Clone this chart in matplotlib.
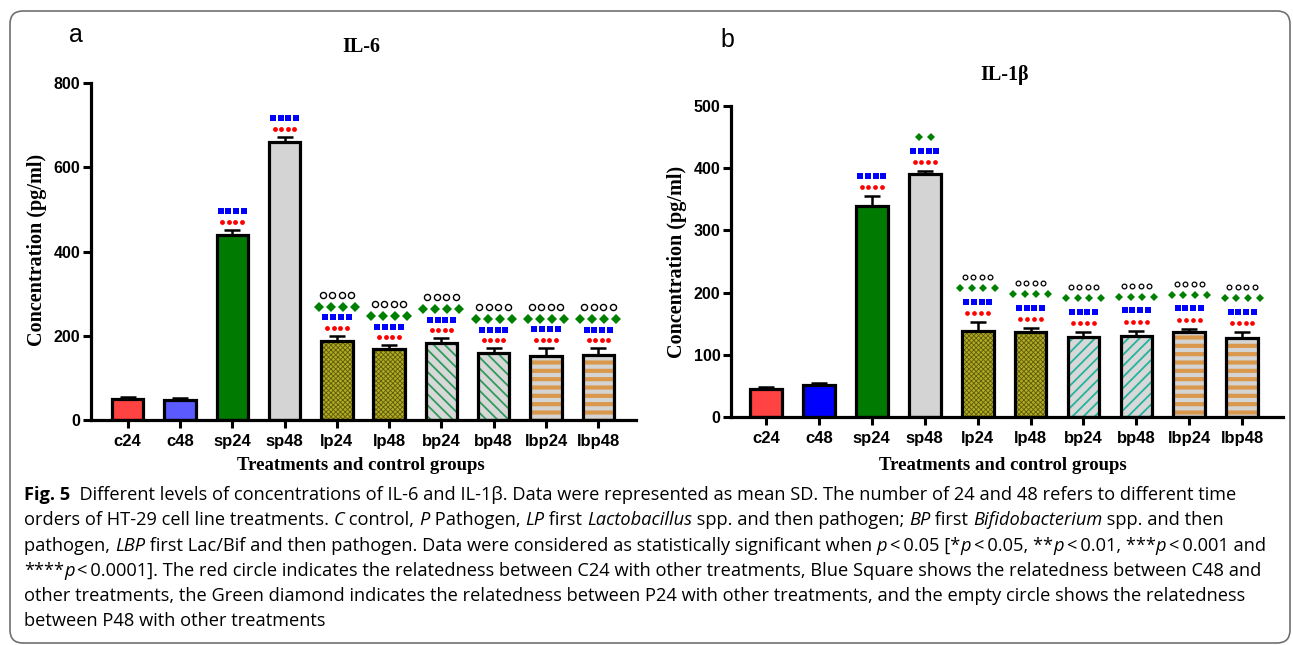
import matplotlib
matplotlib.use("Agg")
import matplotlib.pyplot as plt
import matplotlib.transforms as mtransforms
from matplotlib.patches import FancyBboxPatch
import numpy as np

W, H = 1293, 645

groups = ["c24", "c48", "sp24", "sp48", "lp24", "lp48", "bp24", "bp48", "lbp24", "lbp48"]

il6_mean = [50, 48, 438, 661, 188, 169, 182, 158, 152, 154]
il6_sd = [5, 5, 14, 11, 12, 8, 12, 12, 20, 16]
il1b_mean = [45, 52, 339, 390, 139, 137, 128, 130, 137, 127]
il1b_sd = [3, 2, 16, 5, 13, 6, 8, 9, 5, 9]

# significance marks per bar: red dots, blue squares, green diamonds, empty circles
il6_marks = [(0, 0, 0, 0), (0, 0, 0, 0), (4, 4, 0, 0), (4, 4, 0, 0)] + [(4, 4, 4, 4)] * 6
il1b_marks = [(0, 0, 0, 0), (0, 0, 0, 0), (4, 4, 0, 0), (4, 4, 2, 0)] + [(4, 4, 4, 4)] * 6

tick_font = "Liberation Sans"
serif = "Liberation Serif"

fig = plt.figure(figsize=(W / 100, H / 100), dpi=100)


def px_rect(x0, y_top, x1, y_bot):
    return [x0 / W, 1 - y_bot / H, (x1 - x0) / W, (y_bot - y_top) / H]


def bar_styles(c48_color, bp_hatch, bp_color):
    return [
        dict(face="#ff4242"),
        dict(face=c48_color),
        dict(face="#007a00"),
        dict(face="#d4d4d4"),
        dict(face="#b2ac22", hatch="xxxxxxx", hc="#5e5b0e", hlw=0.6),
        dict(face="#b2ac22", hatch="xxxxxxx", hc="#5e5b0e", hlw=0.6),
        dict(face="#d8d8d8", hatch=bp_hatch, hc=bp_color, hlw=1.3),
        dict(face="#d8d8d8", hatch=bp_hatch, hc=bp_color, hlw=1.3),
        dict(face="#d4d4d4", hatch="--", hc="#d9984c", hlw=3.0),
        dict(face="#d4d4d4", hatch="--", hc="#d9984c", hlw=3.0),
    ]


def draw_panel(ax, means, sds, marks, styles, ymax, ystep, xlim, mark_cfg):
    x = np.arange(len(groups))
    for i, m in enumerate(means):
        st = styles[i]
        with plt.rc_context({"hatch.linewidth": st.get("hlw", 1.0)}):
            b = ax.bar(x[i], m, width=0.6, color=st["face"], hatch=st.get("hatch"),
                       edgecolor=st.get("hc", st["face"]), linewidth=0, zorder=2)
            if hasattr(b[0], "set_hatch_linewidth"):
                b[0].set_hatch_linewidth(st.get("hlw", 1.0))
        ax.bar(x[i], m, width=0.6, fill=False, edgecolor="black", linewidth=2.3, zorder=3)
    ax.errorbar(x, means, yerr=[np.zeros(len(x)), sds], fmt="none", ecolor="black",
                elinewidth=1.8, capsize=6, capthick=1.8, zorder=4)

    for i, (m, s) in enumerate(zip(means, sds)):
        top = m + s
        for n, (dy, sp, mk, ms, fc, ec, mew) in zip(marks[i], mark_cfg):
            for k in range(n):
                dx = (k - (n - 1) / 2) * sp
                tr = mtransforms.offset_copy(ax.transData, fig=fig, x=dx, y=dy, units="dots")
                ax.plot([i], [top], marker=mk, ms=ms, mfc=fc, mec=ec, mew=mew,
                        ls="none", transform=tr, clip_on=False, zorder=5)

    ax.set_xlim(*xlim)
    ax.set_ylim(0, ymax)
    ax.set_yticks(np.arange(0, ymax + 1, ystep))
    ax.set_xticks(x)
    ax.set_xticklabels(groups)
    for sp in ["top", "right"]:
        ax.spines[sp].set_visible(False)
    for sp in ["left", "bottom"]:
        ax.spines[sp].set_linewidth(2.3)
    ax.tick_params(axis="both", width=2.2, length=6, direction="out")
    ax.tick_params(axis="y", pad=1.5)
    ax.tick_params(axis="x", pad=4)
    for lab in ax.get_yticklabels():
        lab.set_fontfamily(tick_font)
        lab.set_fontweight("bold")
        lab.set_fontsize(11.5)
    for lab in ax.get_xticklabels():
        lab.set_fontfamily(tick_font)
        lab.set_fontweight("bold")
        lab.set_fontsize(12)


red, blue, green = "#ff0000", "#0000ff", "#008000"

ax_a = fig.add_axes(px_rect(91, 83, 636, 420))
cfg_a = [
    (8, 6.5, "o", 3.5, red, red, 0),
    (18.5, 7.8, "s", 4.3, blue, blue, 0),
    (29, 12, "D", 4.6, green, green, 0),
    (41, 9.5, "o", 4.4, "none", "black", 1.0),
]
draw_panel(ax_a, il6_mean, il6_sd, il6_marks, bar_styles("#5a5aff", "\\\\\\", "#2e9a5c"),
           800, 200, (-0.70, 9.72), cfg_a)

ax_b = fig.add_axes(px_rect(731, 106, 1283, 417))
cfg_b = [
    (9, 6.8, "o", 3.4, red, red, 0),
    (20.5, 7.8, "s", 4.2, blue, blue, 0),
    (34, 11.7, "D", 4.5, green, green, 0),
    (45, 8.5, "o", 3.4, "none", "black", 0.9),
]
draw_panel(ax_b, il1b_mean, il1b_sd, il1b_marks, bar_styles("#0000ff", "///", "#22b39c"),
           500, 100, (-0.66, 9.77), cfg_b)


def ftext(x, y, s, **kw):
    return fig.text(x / W, 1 - y / H, s, **kw)


# panel letters, titles and axis labels
ftext(76, 35, "a", fontsize=18, family="Liberation Sans", ha="center", va="center")
ftext(727, 40, "b", fontsize=18, family="Liberation Sans", ha="center", va="center")
ftext(361, 47, "IL-6", fontsize=14.5, family=serif, weight="bold", ha="center", va="center")
ftext(1005, 75, "IL-1β", fontsize=14.5, family=serif, weight="bold", ha="center", va="center")
ftext(37, 250, "Concentration (pg/ml)", fontsize=14.5, family=serif, weight="bold",
      rotation=90, ha="center", va="center")
ftext(677, 262, "Concentration (pg/ml)", fontsize=14.5, family=serif, weight="bold",
      rotation=90, ha="center", va="center")
ftext(361, 466, "Treatments and control groups", fontsize=13.5, family=serif, weight="bold",
      ha="center", va="center")
ftext(1003, 466, "Treatments and control groups", fontsize=13.5, family=serif, weight="bold",
      ha="center", va="center")

# rounded frame around the figure
frame = FancyBboxPatch((10, 2), 1280, 632, boxstyle="round,pad=0,rounding_size=13",
                       transform=mtransforms.IdentityTransform(), fill=False,
                       edgecolor="#707070", linewidth=1.2)
fig.patches.append(frame)

# caption
TS = "\u2009"
caption = [
    [("Fig. 5", "b"), ("  Different levels of concentrations of IL-6 and IL-1β. Data were represented as mean SD. "
                       "The number of 24 and 48 refers to different time", "n")],
    [("orders of HT-29 cell line treatments. ", "n"), ("C", "i"), (" control, ", "n"), ("P", "i"),
     (" Pathogen, ", "n"), ("LP", "i"), (" first ", "n"), ("Lactobacillus", "i"),
     (" spp. and then pathogen; ", "n"), ("BP", "i"), (" first ", "n"), ("Bifidobacterium", "i"),
     (" spp. and then", "n")],
    [("pathogen, ", "n"), ("LBP", "i"),
     (" first Lac/Bif and then pathogen. Data were considered as statistically significant when ", "n"),
     ("p", "i"), (TS + "<" + TS + "0.05 [*", "n"), ("p", "i"), (TS + "<" + TS + "0.05, **", "n"),
     ("p", "i"), (TS + "<" + TS + "0.01, ***", "n"), ("p", "i"), (TS + "<" + TS + "0.001 and", "n")],
    [("****", "n"), ("p", "i"),
     (TS + "<" + TS + "0.0001]. The red circle indicates the relatedness between C24 with other treatments, "
      "Blue Square shows the relatedness between C48 and", "n")],
    [("other treatments, the Green diamond indicates the relatedness between P24 with other treatments, "
      "and the empty circle shows the relatedness", "n")],
    [("between P48 with other treatments", "n")],
]
line_ends = [1262, 1250, 1272, 1264, 1262]

renderer = fig.canvas.get_renderer()


def cap_props(style, size):
    return dict(family=["Open Sans", "DejaVu Sans"], fontsize=size,
                weight="bold" if style == "b" else "normal",
                style="italic" if style == "i" else "normal")


def measure(s, style, size):
    t1 = fig.text(0, 0, "x" + s + "x", **cap_props(style, size))
    t2 = fig.text(0, 0, "xx", **cap_props(style, size))
    w = t1.get_window_extent(renderer).width - t2.get_window_extent(renderer).width
    t1.remove()
    t2.remove()
    return w


base = 10.0
x_start = 24
size = min(base * (end - x_start) / sum(measure(s, st, base) for s, st in line)
           for line, end in zip(caption, line_ends))

for li, line in enumerate(caption):
    x = x_start
    y = 500 + 25.3 * li
    for s, st in line:
        fig.text(x / W, 1 - y / H, s, ha="left", va="baseline", **cap_props(st, size))
        x += measure(s, st, size)

fig.savefig("out.png", dpi=100)
